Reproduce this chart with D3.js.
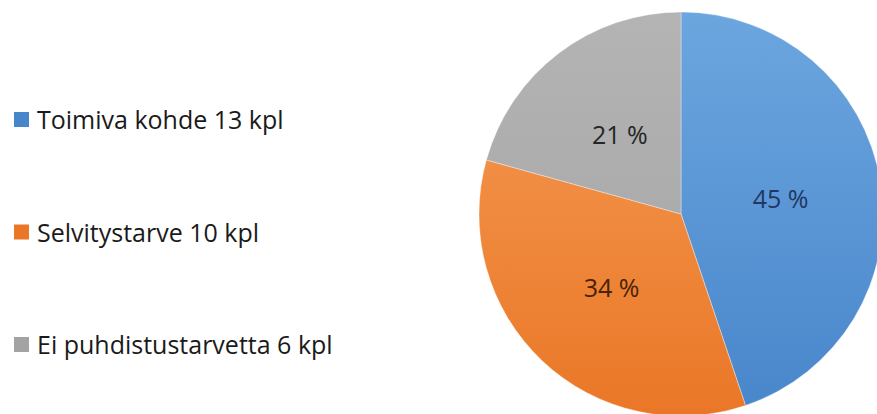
<!DOCTYPE html>
<html>
<head>
<meta charset="utf-8">
<script src="https://cdn.jsdelivr.net/npm/d3@7"></script>
<style>
  html, body { margin: 0; padding: 0; background: #fff; }
  svg { display: block; }
</style>
</head>
<body>
<svg id="mainsvg" width="877" height="414"></svg>
<script>
// data
const categories = ['Toimiva kohde 13 kpl', 'Selvitystarve 10 kpl', 'Ei puhdistustarvetta 6 kpl']
const counts = [13, 10, 6]
const pctLabels = ['45 %', '34 %', '21 %']

const width = 877, height = 414
const cx = 681, cy = 214, radius = 202
const colors = [['#6ca6df', '#4886cb'], ['#f59c55', '#ea7727'], ['#b4b4b4', '#a3a3a3']]
const labelColors = ['#1f3864', '#4a2208', '#262626']

const svg = d3.select('#mainsvg')
const defs = svg.append('defs')
colors.forEach((c, i) => {
    let grad = defs.append('linearGradient')
        .attr('id', `grad${i}`)
        .attr('gradientUnits', 'userSpaceOnUse')
        .attr('x1', 0).attr('y1', -radius)
        .attr('x2', 0).attr('y2', radius)
    grad.append('stop').attr('offset', '0%').attr('stop-color', c[0])
    grad.append('stop').attr('offset', '100%').attr('stop-color', c[1])
})

const pie = d3.pie().sort(null).value(d => d)
const arc = d3.arc().innerRadius(0).outerRadius(radius)
const arcs = pie(counts)

const g = svg.append('g').attr('transform', `translate(${cx},${cy})`)

g.selectAll('path.slice')
    .data(arcs)
    .join('path')
    .attr('class', 'slice')
    .attr('d', arc)
    .attr('fill', (d, i) => `url(#grad${i})`)
    .attr('stroke', 'rgba(255,255,255,0.35)')
    .attr('stroke-width', 1)

g.selectAll('text.pct')
    .data(arcs)
    .join('text')
    .attr('class', 'pct')
    .attr('x', d => arc.centroid(d)[0])
    .attr('y', d => arc.centroid(d)[1])
    .attr('text-anchor', 'middle')
    .attr('dominant-baseline', 'central')
    .attr('font-family', '"Open Sans", sans-serif')
    .attr('font-size', '25px')
    .attr('fill', (d, i) => labelColors[i])
    .text((d, i) => pctLabels[i])

// legend
const legendY = d3.scalePoint().domain(categories).range([119, 344])
const legend = svg.append('g')
legend.selectAll('rect')
    .data(categories)
    .join('rect')
    .attr('x', 14)
    .attr('y', d => legendY(d) - 7)
    .attr('width', 15)
    .attr('height', 15)
    .attr('fill', (d, i) => colors[i][1])

legend.selectAll('text')
    .data(categories)
    .join('text')
    .attr('x', 37)
    .attr('y', d => legendY(d))
    .attr('dominant-baseline', 'central')
    .attr('font-family', '"Open Sans", sans-serif')
    .attr('font-size', '25px')
    .attr('fill', '#1a1a1a')
    .text(d => d)
</script>
</body>
</html>
